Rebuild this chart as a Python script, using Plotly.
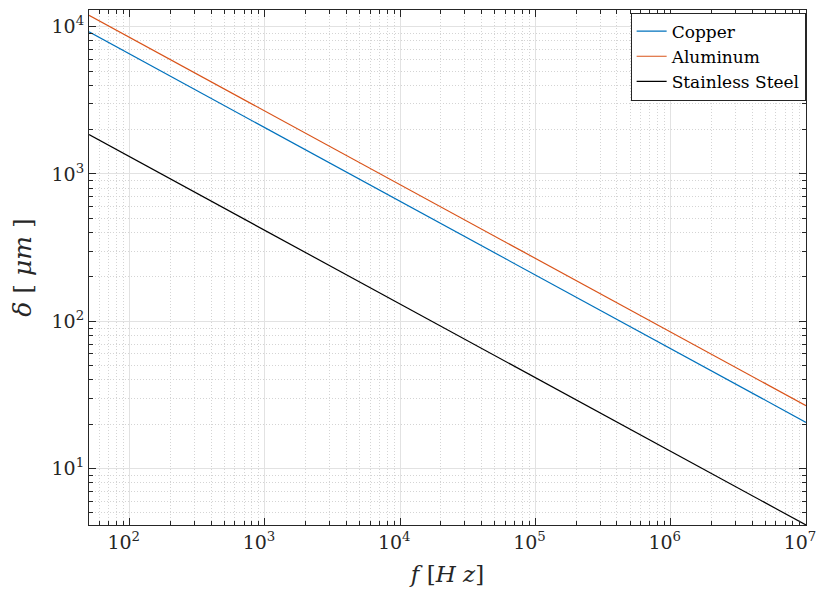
import plotly.graph_objects as go
import math

freq = [50, 1e2, 1e3, 1e4, 1e5, 1e6, 1e7]
copper = [9220, 6520, 2060, 652, 206, 65.2, 20.6]
aluminum = [11950, 8450, 2670, 845, 267, 84.5, 26.7]
steel = [1850, 1308, 414, 131, 41.4, 13.1, 4.14]

x_tickvals = [1e2, 1e3, 1e4, 1e5, 1e6, 1e7]
x_ticktext = ["10<sup>2</sup>", "10<sup>3</sup>", "10<sup>4</sup>", "10<sup>5</sup>", "10<sup>6</sup>", "10<sup>7</sup>"]
y_tickvals = [1e1, 1e2, 1e3, 1e4]
y_ticktext = ["10<sup>1</sup>", "10<sup>2</sup>", "10<sup>3</sup>", "10<sup>4</sup>"]

series = [("Copper", copper, "#0072BD"),
          ("Aluminum", aluminum, "#D95319"),
          ("Stainless Steel", steel, "#000000")]

SERIF = "DejaVu Serif"

fig = go.Figure()
for name, vals, col in series:
    fig.add_trace(go.Scatter(x=freq, y=vals, mode="lines", name=name,
                             line=dict(color=col, width=1.2)))

axcol = "#262626"
common = dict(
    type="log", automargin=False,
    showline=True, linecolor=axcol, linewidth=1, mirror="ticks",
    ticks="inside", ticklen=7, tickcolor=axcol,
    showgrid=True, gridcolor="#e2e2e2", gridwidth=1,
    zeroline=False,
    tickfont=dict(family=SERIF, size=19, color=axcol),
    minor=dict(ticks="inside", ticklen=4, tickcolor=axcol, dtick="D1",
               showgrid=True, gridcolor="#d4d4d4", griddash="1px,2px", gridwidth=1),
)

# page body adds an 8px offset; margins compensate so the plot area lands where the reference has it
fig.update_layout(
    width=825, height=603,
    margin=dict(l=81, r=27, t=2, b=86),
    paper_bgcolor="white", plot_bgcolor="white",
    font=dict(family=SERIF, color=axcol),
    showlegend=True,
    legend=dict(x=0.9995, y=0.995, xanchor="right", yanchor="top",
                bgcolor="white", bordercolor=axcol, borderwidth=1,
                font=dict(family=SERIF, size=17, color="black"),
                tracegroupgap=0, itemwidth=30),
)
fig.update_xaxes(**common, range=[math.log10(50), 7],
                 tickvals=x_tickvals, ticktext=x_ticktext, ticklabelshift=-6,
                 title=dict(text="<i>f</i> [<i>H z</i>]", font=dict(size=23, family=SERIF), standoff=14))
fig.update_yaxes(**common, range=[math.log10(4.14), math.log10(12980)],
                 tickvals=y_tickvals, ticktext=y_ticktext,
                 title=dict(text="<i>δ</i> [ <i>μm</i> ]", font=dict(size=25, family=SERIF), standoff=18))

fig.write_html("out.html")
